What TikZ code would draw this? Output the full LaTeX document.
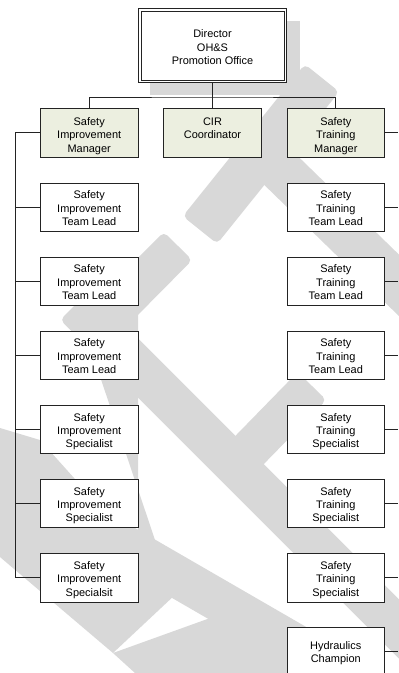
\documentclass[tikz,border=0pt]{standalone}
\usepackage{fontspec}
\setmainfont{Liberation Sans}
\usetikzlibrary{calc}
\definecolor{wm}{RGB}{216,216,216}
\definecolor{mgr}{RGB}{236,239,224}
\definecolor{ln}{RGB}{35,35,35}
\tikzset{
  wmark/.style={fill=wm},
  orgbox/.style={draw=ln, line width=0.9bp, fill=white, minimum width=97.5bp, minimum height=48.5bp,
    inner sep=0pt, align=center, font=\fontsize{11}{13.4}\selectfont, text depth=0pt, text height=36.5bp},
  mgrbox/.style={orgbox, fill=mgr, text height=39bp},
  dirbox/.style={orgbox, minimum width=147.5bp, minimum height=74bp, text height=37.4bp},
  twoline/.style={orgbox, text height=23.1bp},
  conn/.style={draw=ln, line width=0.9bp},
}
\newcommand\wband[3]{\fill[wmark, rounded corners=5bp] ($(#1)!#3!90:(#2)$) -- ($(#2)!#3!-90:(#1)$) -- ($(#2)!#3!90:(#1)$) -- ($(#1)!#3!-90:(#2)$) -- cycle;}
\begin{document}
\begin{tikzpicture}[x=1bp,y=-1bp]
\useasboundingbox (0,0) rectangle (398,673);
\fill[white] (0,0) rectangle (398,673);
% watermark and shadow
\fill[wmark] (150,21) rectangle (300,95);
\wband{322,78}{200,230}{22bp}
\wband{262,152}{450,335}{22bp}
\wband{178,246}{85,340}{20bp}
\wband{75,305}{430,660}{21bp}
\wband{312,386}{232,468}{20bp}
\fill[wmark] (76,305) -- (138,300) -- (138,540) -- (155,540) -- cycle;
\wband{10,480}{330,665}{21bp}
\fill[wmark] (0,428) -- (40,440) -- (177,593) -- (113,653) -- (0,557) -- cycle;
\fill[wmark] (113,653) -- (213,617) -- (300,640) -- (320,673) -- (135,673) -- cycle;
% boxes
\node[dirbox] (dir) at (212.5,45.8) {Director\\OH\&S\\Promotion Office};
\draw[ln, line width=0.8bp] ([shift={(2.8bp,-2.8bp)}]dir.north west) rectangle ([shift={(-2.8bp,2.8bp)}]dir.south east);
\node[mgrbox] (sim) at (89.2,132.7) {Safety\\Improvement\\Manager};
\node[mgrbox] (cir) at (212.5,132.7) {CIR\\Coordinator\\\mbox{}};
\node[mgrbox] (stm) at (335.8,132.7) {Safety\\Training\\Manager};
\node[orgbox] (l1) at (89.2,207.2) {Safety\\Improvement\\Team Lead};
\node[orgbox] (l2) at (89.2,281.2) {Safety\\Improvement\\Team Lead};
\node[orgbox] (l3) at (89.2,355.3) {Safety\\Improvement\\Team Lead};
\node[orgbox] (l4) at (89.2,429.5) {Safety\\Improvement\\Specialist};
\node[orgbox] (l5) at (89.2,503.6) {Safety\\Improvement\\Specialist};
\node[orgbox] (l6) at (89.2,577.9) {Safety\\Improvement\\Specialsit};
\node[orgbox] (r1) at (335.8,207.2) {Safety\\Training\\Team Lead};
\node[orgbox] (r2) at (335.8,281.2) {Safety\\Training\\Team Lead};
\node[orgbox] (r3) at (335.8,355.3) {Safety\\Training\\Team Lead};
\node[orgbox] (r4) at (335.8,429.5) {Safety\\Training\\Specialist};
\node[orgbox] (r5) at (335.8,503.6) {Safety\\Training\\Specialist};
\node[orgbox] (r6) at (335.8,577.9) {Safety\\Training\\Specialist};
\node[twoline] (r7) at (335.8,651.2) {Hydraulics\\Champion};
% connectors
\coordinate (bus) at (212.5,97);
\coordinate (spine) at (15,0);
\coordinate (redge) at (398,0);
\draw[conn] (dir.south) -- (bus);
\draw[conn] (sim.north) |- (bus) -| (stm.north);
\draw[conn] (bus) -- (cir.north);
\draw[conn] (sim.west) -- (sim.west -| spine) -- (l6.west -| spine) -- (l6.west);
\foreach \n in {l1,l2,l3,l4,l5} \draw[conn] (\n.west) -- (\n.west -| spine);
\foreach \n in {stm,r1,r2,r3,r4,r5,r6,r7} \draw[conn] (\n.east) -- (\n.east -| redge);
\end{tikzpicture}
\end{document}
